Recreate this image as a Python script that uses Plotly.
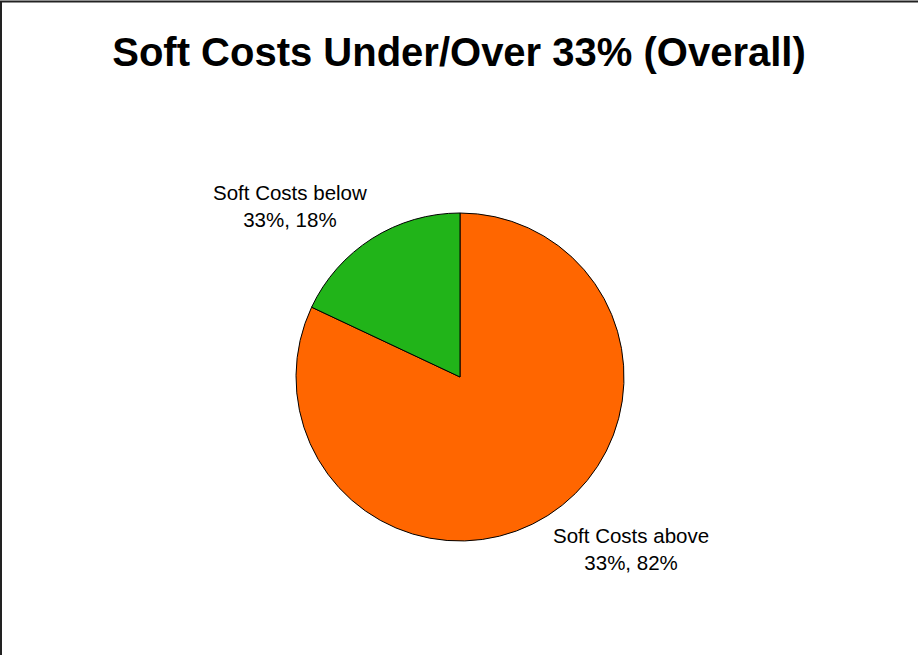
import plotly.graph_objects as go

W, H = 918, 655

categories = ["Soft Costs above<br>33%", "Soft Costs below<br>33%"]
values = [82, 18]
colors = ["#FF6600", "#21B419"]
title_text = "Soft Costs Under/Over 33% (Overall)"

# label centers in pixel coords (style)
label_px = [(631, 549), (290, 206)]

fig = go.Figure()
fig.add_trace(go.Pie(
    labels=categories,
    values=values,
    marker=dict(colors=colors, line=dict(color="black", width=1)),
    sort=False,
    direction="clockwise",
    rotation=0,
    textinfo="none",
    hoverinfo="label+percent",
    showlegend=False,
    domain=dict(x=[296 / W, 624 / W], y=[1 - 541 / H, 1 - 213 / H]),
))

anns = []
for (px, py), c, v in zip(label_px, categories, values):
    anns.append(dict(
        x=px / W, y=1 - py / H, xref="paper", yref="paper",
        text=f"{c}, {v}%", showarrow=False, align="center",
        xanchor="center", yanchor="middle",
        font=dict(family="Liberation Sans, Arial, sans-serif", size=20.5, color="black"),
    ))

fig.update_layout(
    width=W, height=H,
    margin=dict(l=0, r=0, t=0, b=0),
    paper_bgcolor="white", plot_bgcolor="white",
    title=dict(text=f"<b>{title_text}</b>", x=0.5, xanchor="center",
               y=1 - 52 / H, yanchor="middle", yref="container",
               font=dict(family="Liberation Sans, Arial, sans-serif", size=40, color="black")),
    annotations=anns,
    shapes=[dict(type="rect", xref="paper", yref="paper",
                 x0=1 / W, y0=-0.1, x1=1.1, y1=1 - 1.5 / H,
                 line=dict(color="#222222", width=2), fillcolor="rgba(0,0,0,0)")],
)

fig.write_html("out.html")
